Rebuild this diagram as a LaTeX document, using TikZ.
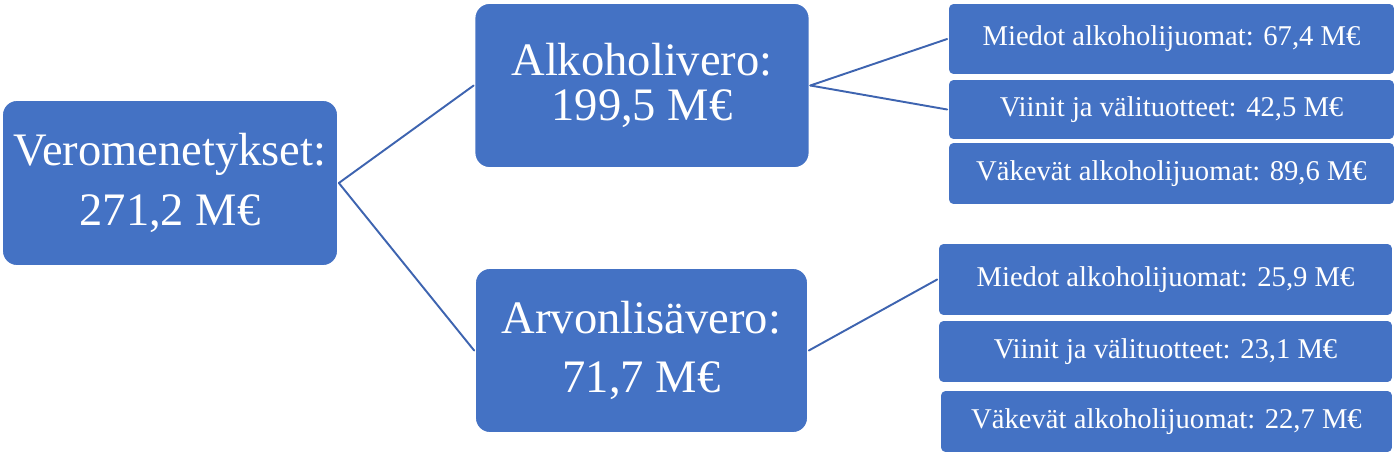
\documentclass[tikz,border=0pt]{standalone}
\usepackage{fontspec}
\setmainfont{Liberation Serif}
\usetikzlibrary{arrows}
\definecolor{laatikko}{HTML}{4472C4}
\definecolor{viiva}{HTML}{3E64B0}

\begin{document}
\begin{tikzpicture}[line cap=round,line join=round,x=0.02cm,y=-0.02cm,
  iso/.style={rectangle,rounded corners=8.5pt,fill=laatikko,draw=white,line width=1pt,text=white,align=center,inner sep=0pt,font=\fontsize{26.5}{34}\selectfont},
  pieni/.style={rectangle,rounded corners=3pt,fill=laatikko,draw=white,line width=1pt,text=white,align=center,inner sep=0pt,font=\fontsize{16.3}{20}\selectfont},
  yhd/.style={draw=viiva,line width=1.1pt}]
\useasboundingbox (0,0) rectangle (1400,456);
% isot laatikot
\node[iso,minimum width=6.72cm,minimum height=3.32cm] (vero) at (170,183) {Veromenetykset:\\271,2 M€};
\node[iso,minimum width=6.7cm,minimum height=3.3cm] (alko) at (642,85.5) {Alkoholivero:\\[-8pt]199,5 M€};
\node[iso,minimum width=6.66cm,minimum height=3.3cm] (alv) at (641.5,350.5) {Arvonlisävero:\\71,7 M€};
% alkoholivero
\node[pieni,minimum width=8.94cm,minimum height=1.44cm] (miedot1) at (1171.5,39) {Miedot alkoholijuomat: 67,4 M€};
\node[pieni,minimum width=8.94cm,minimum height=1.22cm] (viinit1) at (1171.5,109.5) {Viinit ja välituotteet: 42,5 M€};
\node[pieni,minimum width=8.94cm,minimum height=1.26cm] (vakevat1) at (1171.5,173.5) {Väkevät alkoholijuomat: 89,6 M€};
% arvonlisavero
\node[pieni,minimum width=9.1cm,minimum height=1.46cm] (miedot2) at (1165.5,279.5) {Miedot alkoholijuomat: 25,9 M€};
\node[pieni,minimum width=9.1cm,minimum height=1.26cm] (viinit2) at (1165.5,351.5) {Viinit ja välituotteet: 23,1 M€};
\node[pieni,minimum width=9.06cm,minimum height=1.26cm] (vakevat2) at (1166.5,421.5) {Väkevät alkoholijuomat: 22,7 M€};
\draw[yhd] (vero.east)-- (alko.west);
\draw[yhd] (vero.east)-- (alv.west);
\draw[yhd] (alko.east)-- (miedot1.west);
\draw[yhd] (alko.east)-- (viinit1.west);
\draw[yhd] (alv.east)-- (miedot2.west);
\end{tikzpicture}
\end{document}
